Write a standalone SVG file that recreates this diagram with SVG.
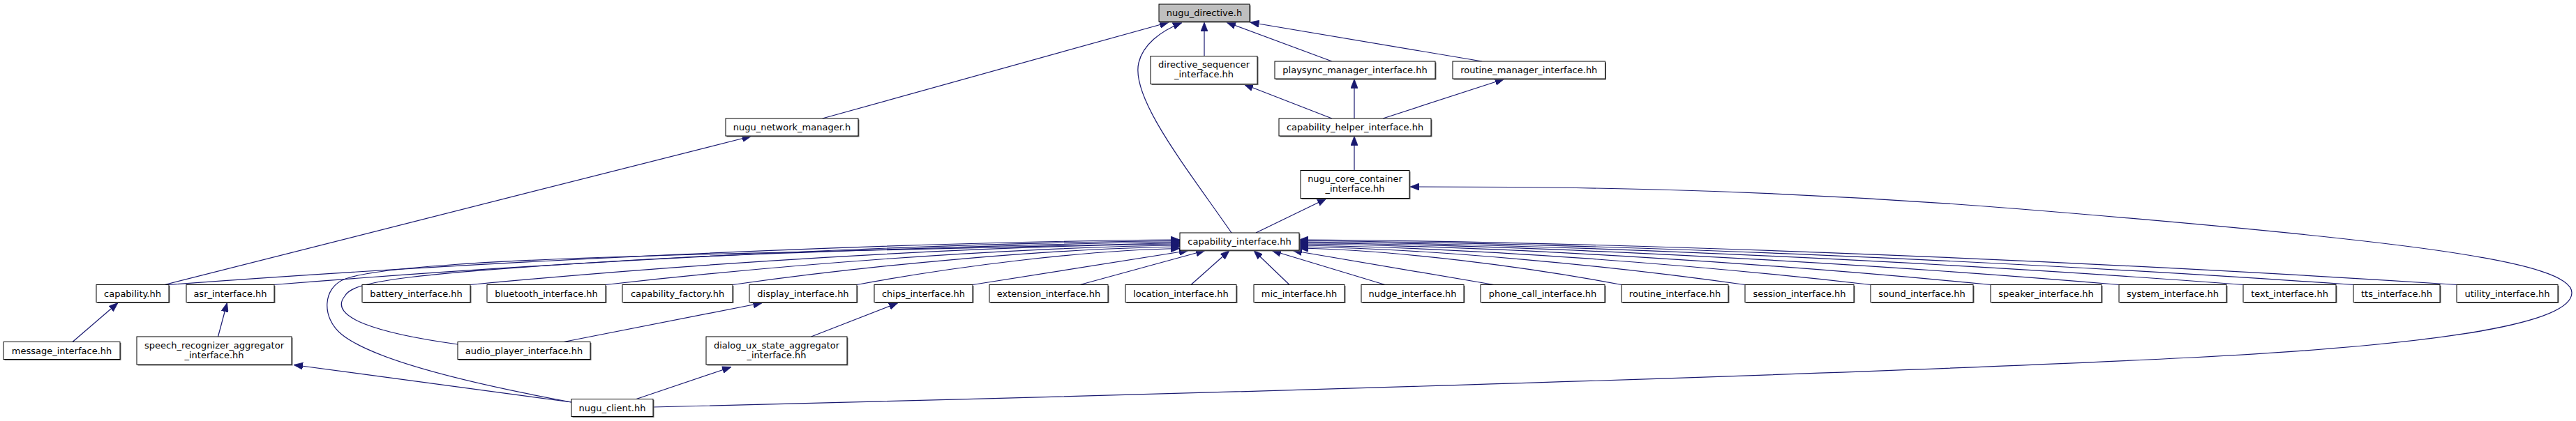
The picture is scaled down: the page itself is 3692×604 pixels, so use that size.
<svg xmlns="http://www.w3.org/2000/svg" width="3692" height="604" viewBox="0 0 3692 604">
<style>
.bg{fill:#ffffff}
.sh{fill:#707070}
.n{fill:#ffffff;stroke:#000000;stroke-width:1}
.nd{fill:#bfbfbf;stroke:#000000;stroke-width:1}
text{font-family:"DejaVu Sans","Liberation Sans",sans-serif;font-size:13px;text-anchor:middle;fill:#000000}
.e{fill:none;stroke:#191970;stroke-width:1.2;marker-end:url(#ah)}
</style>
<defs>
<marker id="ah" markerUnits="userSpaceOnUse" viewBox="0 0 13 10" markerWidth="13" markerHeight="10" refX="13" refY="5" orient="auto">
<path d="M0,0 L13,5 L0,10 z" fill="#191970" stroke="#191970" stroke-width="0.8"/>
</marker>
</defs>
<rect class="bg" x="0" y="0" width="3692" height="604"/>
<g id="connectors">
<path class="e" d="M1726,80.5 L1726,32"/>
<path class="e" d="M1909,88 L1758,32"/>
<path class="e" d="M2124,88 L1791.5,32"/>
<path class="e" d="M1178.6,170 L1675,32"/>
<path class="e" d="M1765,334 C1700,240 1620,140 1632,90 C1638,65 1662,45 1694,32.5"/>
<path class="e" d="M1909,170 L1783,121"/>
<path class="e" d="M1941,170 L1941,113.5"/>
<path class="e" d="M1982,170 L2155.6,113.5"/>
<path class="e" d="M1941,244.5 L1941,195.5"/>
<path class="e" d="M1800,334 L1901,285"/>
<path class="e" d="M936,584 C1600,568 2600,540 3141,513 C3450,497 3686,470 3686,420 C3686,375 3450,345 2897,300 C2500,268 2200,268 2021,268"/>
<path class="e" d="M236,408.5 L1076.5,195.5"/>
<path class="e" d="M241,408.5 C676,376.3 1256,347.2 1691,344"/>
<path class="e" d="M392,408.5 C781.7,377 1301.3,348.65 1691,345.5"/>
<path class="e" d="M674,408.5 C979.1,379.3 1385.9,352.9 1691,350"/>
<path class="e" d="M868,408.5 C1114.9,380.3 1444.1,354.8 1691,352"/>
<path class="e" d="M1050,408.5 C1242.3,381.3 1498.7,356.7 1691,354"/>
<path class="e" d="M1228,408.5 C1366.9,382.5 1552.1,359.1 1691,356.5"/>
<path class="e" d="M656,494 C540,478 470,455 494,425 C504,405 560,392 1000,368 C1300,356 1550,349 1691,347"/>
<path class="e" d="M819,577 C700,555 540,520 490,480 C460,456 462,412 495,400 C540,384 700,373 1000,365 C1300,357 1550,350 1691,348.5"/>
<path class="e" d="M1394,408.5 L1703,359.5"/>
<path class="e" d="M1548,408.5 L1727,359.5"/>
<path class="e" d="M1707,408.5 L1762,359.5"/>
<path class="e" d="M1848,408.5 L1797,359.5"/>
<path class="e" d="M1985,408.5 L1823,359.5"/>
<path class="e" d="M2141,408.5 L1853,359.5"/>
<path class="e" d="M2324,408.5 C2185.4,382.25 1998.6,358.6 1862,356"/>
<path class="e" d="M2501,408.5 C2309.3,381.25 2053.7,356.7 1862,354"/>
<path class="e" d="M2681,408.5 C2435.3,380.25 2107.7,354.8 1862,352"/>
<path class="e" d="M2853,408.5 C2555.7,379.25 2159.3,352.9 1862,350"/>
<path class="e" d="M3037,408.5 C2684.5,378.5 2214.5,351.5 1862,348.5"/>
<path class="e" d="M3215,408.5 C2809.1,377.75 2267.9,350.1 1862,347"/>
<path class="e" d="M3373,408.5 C2919.7,377 2315.3,348.65 1862,345.5"/>
<path class="e" d="M3521,408.5 C3023.3,376.25 2359.7,347.2 1862,344"/>
<path class="e" d="M104,490.5 L169,434.5"/>
<path class="e" d="M312.5,483 L325.5,434.5"/>
<path class="e" d="M808,490.5 L1092.5,434.5"/>
<path class="e" d="M1162.6,483 L1287,434.5"/>
<path class="e" d="M819,577 L421,523.5"/>
<path class="e" d="M912,572.5 L1048,526.5"/>
</g>
<g id="n_nugu_directive"><rect class="sh" x="1662.5" y="7.5" width="130" height="25"/><rect class="nd" x="1661" y="6" width="130" height="25"/><text x="1726" y="23">nugu_directive.h</text></g>
<g id="n_directive_sequencer"><rect class="sh" x="1650.5" y="82" width="153" height="40"/><rect class="n" x="1649" y="80.5" width="153" height="40"/><text x="1725.5" y="97">directive_sequencer</text><text x="1725.5" y="111">_interface.hh</text></g>
<g id="n_playsync_manager"><rect class="sh" x="1828.5" y="89.5" width="230" height="25"/><rect class="n" x="1827" y="88" width="230" height="25"/><text x="1942" y="105">playsync_manager_interface.hh</text></g>
<g id="n_routine_manager"><rect class="sh" x="2083.5" y="89.5" width="218.5" height="25"/><rect class="n" x="2082" y="88" width="218.5" height="25"/><text x="2191.25" y="105">routine_manager_interface.hh</text></g>
<g id="n_nugu_network_manager"><rect class="sh" x="1041.5" y="171.5" width="190" height="25"/><rect class="n" x="1040" y="170" width="190" height="25"/><text x="1135" y="187">nugu_network_manager.h</text></g>
<g id="n_capability_helper"><rect class="sh" x="1834.5" y="171.5" width="218" height="25"/><rect class="n" x="1833" y="170" width="218" height="25"/><text x="1942" y="187">capability_helper_interface.hh</text></g>
<g id="n_nugu_core_container"><rect class="sh" x="1865.5" y="246" width="156" height="40"/><rect class="n" x="1864" y="244.5" width="156" height="40"/><text x="1942" y="261">nugu_core_container</text><text x="1942" y="275">_interface.hh</text></g>
<g id="n_capability_interface"><rect class="sh" x="1692.5" y="335.5" width="171" height="25"/><rect class="n" x="1691" y="334" width="171" height="25"/><text x="1776.5" y="351">capability_interface.hh</text></g>
<g id="n_capability"><rect class="sh" x="139.5" y="410" width="104" height="25"/><rect class="n" x="138" y="408.5" width="104" height="25"/><text x="190" y="425.5">capability.hh</text></g>
<g id="n_asr"><rect class="sh" x="268.5" y="410" width="126" height="25"/><rect class="n" x="267" y="408.5" width="126" height="25"/><text x="330" y="425.5">asr_interface.hh</text></g>
<g id="n_battery"><rect class="sh" x="520.5" y="410" width="155" height="25"/><rect class="n" x="519" y="408.5" width="155" height="25"/><text x="596.5" y="425.5">battery_interface.hh</text></g>
<g id="n_bluetooth"><rect class="sh" x="699.5" y="410" width="170" height="25"/><rect class="n" x="698" y="408.5" width="170" height="25"/><text x="783" y="425.5">bluetooth_interface.hh</text></g>
<g id="n_capability_factory"><rect class="sh" x="893.5" y="410" width="158" height="25"/><rect class="n" x="892" y="408.5" width="158" height="25"/><text x="971" y="425.5">capability_factory.hh</text></g>
<g id="n_display"><rect class="sh" x="1075.5" y="410" width="154" height="25"/><rect class="n" x="1074" y="408.5" width="154" height="25"/><text x="1151" y="425.5">display_interface.hh</text></g>
<g id="n_chips"><rect class="sh" x="1254.5" y="410" width="141" height="25"/><rect class="n" x="1253" y="408.5" width="141" height="25"/><text x="1323.5" y="425.5">chips_interface.hh</text></g>
<g id="n_extension"><rect class="sh" x="1419.5" y="410" width="170" height="25"/><rect class="n" x="1418" y="408.5" width="170" height="25"/><text x="1503" y="425.5">extension_interface.hh</text></g>
<g id="n_location"><rect class="sh" x="1614.5" y="410" width="159" height="25"/><rect class="n" x="1613" y="408.5" width="159" height="25"/><text x="1692.5" y="425.5">location_interface.hh</text></g>
<g id="n_mic"><rect class="sh" x="1798.5" y="410" width="130" height="25"/><rect class="n" x="1797" y="408.5" width="130" height="25"/><text x="1862" y="425.5">mic_interface.hh</text></g>
<g id="n_nudge"><rect class="sh" x="1952.5" y="410" width="147" height="25"/><rect class="n" x="1951" y="408.5" width="147" height="25"/><text x="2024.5" y="425.5">nudge_interface.hh</text></g>
<g id="n_phone_call"><rect class="sh" x="2123.5" y="410" width="178" height="25"/><rect class="n" x="2122" y="408.5" width="178" height="25"/><text x="2211" y="425.5">phone_call_interface.hh</text></g>
<g id="n_routine"><rect class="sh" x="2325.5" y="410" width="153" height="25"/><rect class="n" x="2324" y="408.5" width="153" height="25"/><text x="2400.5" y="425.5">routine_interface.hh</text></g>
<g id="n_session"><rect class="sh" x="2502.5" y="410" width="156" height="25"/><rect class="n" x="2501" y="408.5" width="156" height="25"/><text x="2579" y="425.5">session_interface.hh</text></g>
<g id="n_sound"><rect class="sh" x="2682.5" y="410" width="147" height="25"/><rect class="n" x="2681" y="408.5" width="147" height="25"/><text x="2754.5" y="425.5">sound_interface.hh</text></g>
<g id="n_speaker"><rect class="sh" x="2854.5" y="410" width="159" height="25"/><rect class="n" x="2853" y="408.5" width="159" height="25"/><text x="2932.5" y="425.5">speaker_interface.hh</text></g>
<g id="n_system"><rect class="sh" x="3038.5" y="410" width="154" height="25"/><rect class="n" x="3037" y="408.5" width="154" height="25"/><text x="3114" y="425.5">system_interface.hh</text></g>
<g id="n_text"><rect class="sh" x="3216.5" y="410" width="133" height="25"/><rect class="n" x="3215" y="408.5" width="133" height="25"/><text x="3281.5" y="425.5">text_interface.hh</text></g>
<g id="n_tts"><rect class="sh" x="3374.5" y="410" width="124" height="25"/><rect class="n" x="3373" y="408.5" width="124" height="25"/><text x="3435" y="425.5">tts_interface.hh</text></g>
<g id="n_utility"><rect class="sh" x="3522.5" y="410" width="145" height="25"/><rect class="n" x="3521" y="408.5" width="145" height="25"/><text x="3593.5" y="425.5">utility_interface.hh</text></g>
<g id="n_message"><rect class="sh" x="6.5" y="492" width="167" height="25"/><rect class="n" x="5" y="490.5" width="167" height="25"/><text x="88.5" y="507.5">message_interface.hh</text></g>
<g id="n_speech_recognizer"><rect class="sh" x="197.5" y="484.5" width="222" height="40"/><rect class="n" x="196" y="483" width="222" height="40"/><text x="307" y="499.5">speech_recognizer_aggregator</text><text x="307" y="513.5">_interface.hh</text></g>
<g id="n_audio_player"><rect class="sh" x="657.5" y="492" width="190" height="25"/><rect class="n" x="656" y="490.5" width="190" height="25"/><text x="751" y="507.5">audio_player_interface.hh</text></g>
<g id="n_dialog_ux"><rect class="sh" x="1013.5" y="484.5" width="202" height="40"/><rect class="n" x="1012" y="483" width="202" height="40"/><text x="1113" y="499.5">dialog_ux_state_aggregator</text><text x="1113" y="513.5">_interface.hh</text></g>
<g id="n_nugu_client"><rect class="sh" x="820.5" y="574" width="117" height="25"/><rect class="n" x="819" y="572.5" width="117" height="25"/><text x="877.5" y="589.5">nugu_client.hh</text></g>
</svg>
